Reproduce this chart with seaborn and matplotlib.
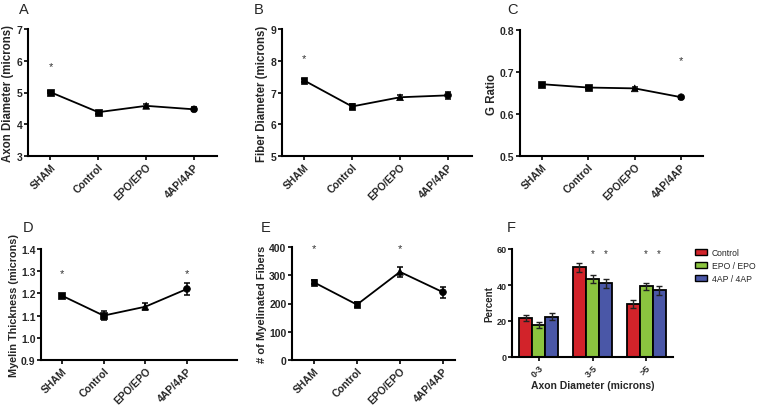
import numpy as np
import pandas as pd
import matplotlib
matplotlib.use("Agg")
import matplotlib.pyplot as plt
import seaborn as sns

# groups for the line panels
groups = ["SHAM", "Control", "EPO/EPO", "4AP/4AP"]
group_markers = ["s", "s", "^", "o"]

# A - axon diameter
axon_mean = [5.01, 4.38, 4.58, 4.47]
axon_err = [0.03, 0.05, 0.06, 0.06]
# B - fiber diameter
fiber_mean = [7.38, 6.56, 6.85, 6.91]
fiber_err = [0.04, 0.07, 0.07, 0.10]
# C - g ratio
gratio_mean = [0.671, 0.663, 0.661, 0.640]
gratio_err = [0.002, 0.003, 0.003, 0.004]
# D - myelin thickness
myelin_mean = [1.19, 1.10, 1.14, 1.22]
myelin_err = [0.008, 0.02, 0.015, 0.028]
# E - number of myelinated fibers
fibers_mean = [275, 196, 312, 240]
fibers_err = [7, 8, 17, 20]

# F - distribution by axon diameter
bins = ["0-3", "3-5", ">5"]
treatments = ["Control", "EPO / EPO", "4AP / 4AP"]
pct_control = [21.5, 49.8, 29.3]
pct_epo = [17.8, 43.3, 39.3]
pct_4ap = [22.4, 40.9, 37.0]
err_control = [1.7, 2.3, 2.3]
err_epo = [1.7, 2.3, 2.0]
err_4ap = [2.0, 2.5, 2.5]
bar_colors = ["#D2232A", "#8BC43F", "#4A57A7"]

sns.set_style("ticks")
plt.rcParams['font.family'] = ['Liberation Sans', 'DejaVu Sans']

fig = plt.figure(figsize=(7.6, 4.1), dpi=100)
W, H = 760.0, 410.0


def make_axes(x0, x1, ytop, ybot):
    return fig.add_axes([x0 / W, 1 - ybot / H, (x1 - x0) / W, (ybot - ytop) / H])


def style_axes(ax, ylim, yticks, ylabel, ylabel_size=8.3, tick_size=7.5):
    sns.despine(ax=ax)
    for s in ["left", "bottom"]:
        ax.spines[s].set_linewidth(1.5)
        ax.spines[s].set_color("black")
    ax.set_ylim(*ylim)
    ax.set_yticks(yticks)
    ax.tick_params(axis="both", width=1.2, length=3, color="black", pad=1)
    for lab in ax.get_yticklabels():
        lab.set_fontsize(tick_size)
        lab.set_fontweight("bold")
    ax.set_ylabel(ylabel, fontsize=ylabel_size, fontweight="bold", labelpad=1.5)


def line_panel(ax, means, errs, ylim, yticks, ylabel, stars, star_y, xlim, ylabel_size=8.3):
    df = pd.DataFrame({"x": np.arange(len(groups)), "y": means, "g": groups})
    sns.lineplot(data=df, x="x", y="y", color="black", lw=1.3, ax=ax, zorder=2)
    sns.scatterplot(data=df, x="x", y="y", style="g", markers=dict(zip(groups, group_markers)),
                    color="black", s=24, edgecolor="black", linewidth=0.5, legend=False, ax=ax, zorder=4)
    ax.errorbar(df["x"], df["y"], yerr=errs, fmt="none", ecolor="black", elinewidth=1.1,
                capsize=2.5, capthick=1.1, zorder=3)
    for i in stars:
        ax.text(i, star_y, "*", ha="center", va="center", fontsize=8, color="#333333")
    ax.set_xlim(*xlim)
    ax.set_xticks(range(len(groups)))
    ax.set_xticklabels(groups, rotation=45, ha="right", rotation_mode="anchor",
                       fontsize=7.5, fontweight="bold")
    ax.set_xlabel("")
    style_axes(ax, ylim, yticks, ylabel, ylabel_size)


axA = make_axes(28, 217, 30, 157)
line_panel(axA, axon_mean, axon_err, (3, 7), [3, 4, 5, 6, 7], "Axon Diameter (microns)",
           [0], 5.82, (-0.47, 3.48))

axB = make_axes(282, 472, 30, 157)
line_panel(axB, fiber_mean, fiber_err, (5, 9), [5, 6, 7, 8, 9], "Fiber Diameter (microns)",
           [0], 8.08, (-0.46, 3.5))

axC = make_axes(520, 703, 31, 157)
line_panel(axC, gratio_mean, gratio_err, (0.5, 0.8), [0.5, 0.6, 0.7, 0.8], "G Ratio",
           [3], 0.729, (-0.47, 3.47))

axD = make_axes(41, 237, 250, 361)
line_panel(axD, myelin_mean, myelin_err, (0.9, 1.4), [0.9, 1.0, 1.1, 1.2, 1.3, 1.4],
           "Myelin Thickness (microns)", [0, 3], 1.29, (-0.5, 4.2), ylabel_size=7.8)
axD.yaxis.set_major_formatter(matplotlib.ticker.FormatStrFormatter("%.1f"))

axE = make_axes(292, 455, 248, 361)
line_panel(axE, fibers_mean, fibers_err, (0, 400), [0, 100, 200, 300, 400],
           "# of Myelinated Fibers", [0, 2], 395, (-0.51, 3.28), ylabel_size=8)

# F - grouped bars
axF = make_axes(512, 673, 250, 358)
dfF = pd.DataFrame({
    "bin": bins * 3,
    "treatment": np.repeat(treatments, 3),
    "pct": pct_control + pct_epo + pct_4ap,
})
sns.barplot(data=dfF, x="bin", y="pct", hue="treatment", hue_order=treatments,
            palette=bar_colors, errorbar=None, width=0.73, edgecolor="black",
            linewidth=1.3, saturation=1, ax=axF)
bar_conts = list(axF.containers)
all_errs = [err_control, err_epo, err_4ap]
all_vals = [pct_control, pct_epo, pct_4ap]
for cont, errs, vals in zip(bar_conts, all_errs, all_vals):
    xs = [p.get_x() + p.get_width() / 2 for p in cont.patches]
    axF.errorbar(xs, vals, yerr=errs, fmt="none", ecolor="#222222", elinewidth=1.0,
                 capsize=2.5, capthick=1.0, zorder=5)
# significance stars over EPO and 4AP in 3-5 and >5
for cont in bar_conts[1:]:
    for p in cont.patches[1:]:
        axF.text(p.get_x() + p.get_width() / 2, 57.5, "*", ha="center", va="center",
                 fontsize=7, color="#333333")
axF.set_xlim(-0.5, 2.5)
axF.set_xticks(range(len(bins)))
axF.set_xticklabels(bins, rotation=45, ha="right", rotation_mode="anchor",
                    fontsize=6.5, fontweight="bold")
axF.set_xlabel("Axon Diameter (microns)", fontsize=7.5, fontweight="bold", labelpad=1)
style_axes(axF, (0, 60), [0, 20, 40, 60], "Percent", ylabel_size=7, tick_size=6.5)
leg = axF.legend(loc="upper left", bbox_to_anchor=(183 / 161, 1.01), frameon=False, fontsize=6.2,
                 handlelength=1.35, handleheight=0.75, handletextpad=0.6,
                 labelspacing=0.45, borderaxespad=0, borderpad=0)
for h in leg.legend_handles:
    h.set_edgecolor("black")
    h.set_linewidth(1.0)

# panel letters
for lab, (px, py) in zip("ABCDEF", [(24, 10), (259, 10), (513, 10), (28, 228), (266, 228), (511, 228)]):
    fig.text(px / W, 1 - py / H, lab, fontsize=10.5, ha="center", va="center")

fig.savefig("out.png", dpi=100)
